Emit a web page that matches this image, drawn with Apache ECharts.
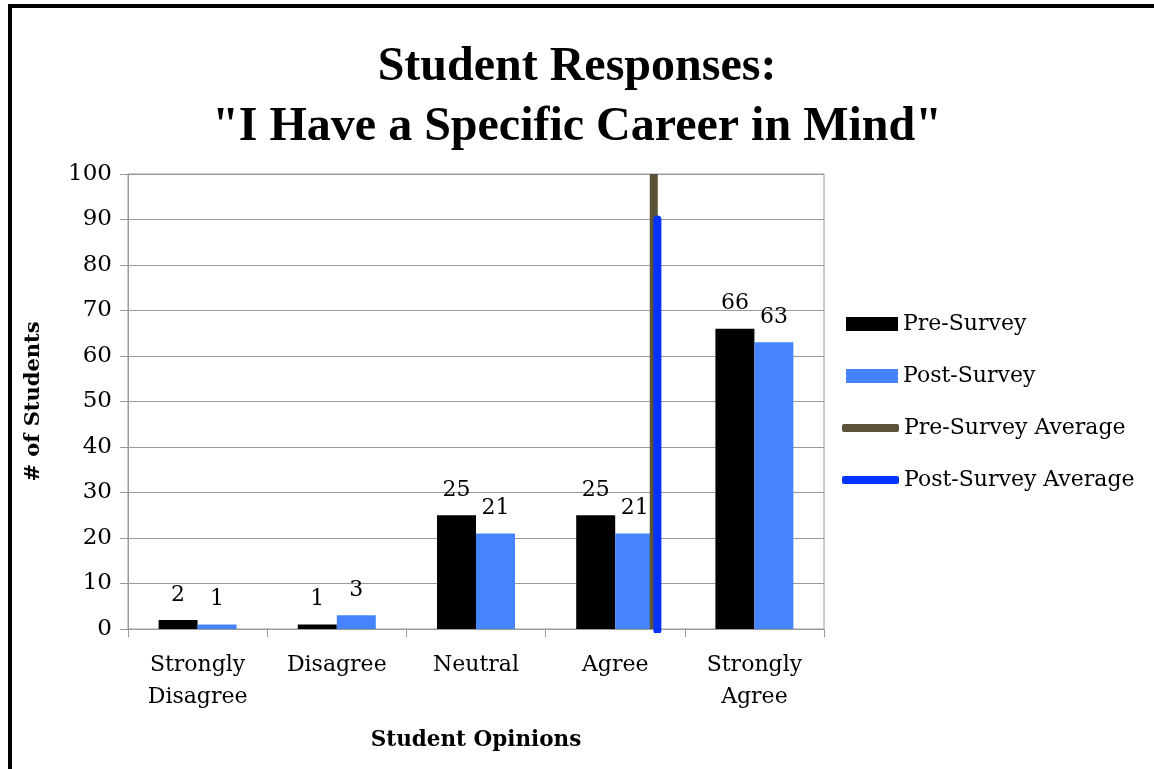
<!DOCTYPE html>
<html>
<head>
<meta charset="utf-8">
<script src="https://cdn.jsdelivr.net/npm/echarts@6/dist/echarts.min.js"></script>
<style>
  html, body { margin: 0; padding: 0; background: #fff; }
  #main { width: 1154px; height: 769px; }
</style>
</head>
<body>
<div id="main"></div>
<script>
// data
var categories = ['Strongly\nDisagree', 'Disagree', 'Neutral', 'Agree', 'Strongly\nAgree'];
var preSurvey = [2, 1, 25, 25, 66];
var postSurvey = [1, 3, 21, 21, 63];
// averages on a 1..5 opinion scale, with the height each line reaches
var preAverage = 4.277;
var preAverageTop = 100;
var postAverage = 4.303;
var postAverageTop = 90;
var yTicks = [0, 10, 20, 30, 40, 50, 60, 70, 80, 90, 100];

var times = '"Liberation Serif", serif';
var serif = '"DejaVu Serif", "Liberation Serif", serif';
var myChart = echarts.init(document.getElementById('main'));

var option = {
    backgroundColor: '#fff',
    animation: false,
    title: {
        text: 'Student Responses:\n"I Have a Specific Career in Mind"',
        left: 'center',
        top: 33,
        textStyle: {
            fontFamily: times,
            fontWeight: 'bold',
            fontSize: 48,
            lineHeight: 60,
            color: '#000'
        }
    },
    graphic: [{
        type: 'rect',
        shape: { x: 10, y: 6, width: 1160, height: 780 },
        style: { fill: 'none', stroke: '#000', lineWidth: 4 }
    }],
    legend: [{
        data: ['Pre-Survey', 'Post-Survey'],
        orient: 'vertical',
        left: 841,
        top: 307,
        itemWidth: 52,
        itemHeight: 14,
        itemGap: 28,
        icon: 'rect',
        textStyle: { fontFamily: serif, fontSize: 22, color: '#000', lineHeight: 24 }
    }, {
        data: ['Pre-Survey Average', 'Post-Survey Average'],
        orient: 'vertical',
        left: 837,
        top: 411,
        itemWidth: 57,
        itemHeight: 8,
        itemGap: 28,
        icon: 'roundRect',
        textStyle: { fontFamily: serif, fontSize: 22, color: '#000', lineHeight: 24 }
    }],
    grid: {
        left: 128,
        right: 330,
        top: 174,
        bottom: 140,
        show: true,
        borderColor: '#9a9a9a',
        borderWidth: 1
    },
    xAxis: [{
        type: 'category',
        data: categories,
        name: 'Student Opinions',
        nameLocation: 'middle',
        nameGap: 100,
        nameTextStyle: { fontFamily: serif, fontWeight: 'bold', fontSize: 21.5, color: '#000' },
        axisLine: { lineStyle: { color: '#9a9a9a', width: 1 } },
        axisTick: { show: true, length: 8, lineStyle: { color: '#9a9a9a' } },
        axisLabel: { fontFamily: serif, fontSize: 22, color: '#000', lineHeight: 32, margin: 20 }
    }, {
        type: 'value',
        min: 0.5,
        max: 5.5,
        show: false
    }],
    yAxis: {
        type: 'value',
        min: yTicks[0],
        max: yTicks[yTicks.length - 1],
        interval: 10,
        name: '# of Students',
        nameLocation: 'middle',
        nameGap: 84,
        nameTextStyle: { fontFamily: serif, fontWeight: 'bold', fontSize: 21, color: '#000' },
        axisLine: { show: true, lineStyle: { color: '#9a9a9a', width: 1 } },
        axisTick: { show: true, length: 8, lineStyle: { color: '#9a9a9a' } },
        axisLabel: { fontFamily: serif, fontSize: 23, color: '#000', margin: 16 },
        splitLine: { lineStyle: { color: '#9a9a9a', width: 1 } }
    },
    series: [{
        name: 'Pre-Survey',
        type: 'bar',
        data: preSurvey,
        barWidth: 39,
        barGap: '0%',
        itemStyle: { color: '#000' },
        label: {
            show: true,
            position: 'top',
            distance: 14,
            fontFamily: serif,
            fontSize: 22,
            color: '#000'
        }
    }, {
        name: 'Post-Survey',
        type: 'bar',
        data: postSurvey,
        barWidth: 39,
        barGap: '0%',
        itemStyle: { color: '#4584fd' },
        label: {
            show: true,
            position: 'top',
            distance: 14,
            fontFamily: serif,
            fontSize: 22,
            color: '#000'
        }
    }, {
        name: 'Pre-Survey Average',
        type: 'line',
        xAxisIndex: 1,
        data: [[preAverage, 0], [preAverage, preAverageTop]],
        symbol: 'none',
        itemStyle: { color: '#5b5337' },
        lineStyle: { color: '#5b5337', width: 8 },
        z: 5
    }, {
        name: 'Post-Survey Average',
        type: 'line',
        xAxisIndex: 1,
        data: [[postAverage, -0.3], [postAverage, postAverageTop]],
        symbol: 'none',
        itemStyle: { color: '#0433ff' },
        lineStyle: { color: '#0433ff', width: 8, cap: 'round' },
        z: 6
    }]
};
myChart.setOption(option);
</script>
</body>
</html>
